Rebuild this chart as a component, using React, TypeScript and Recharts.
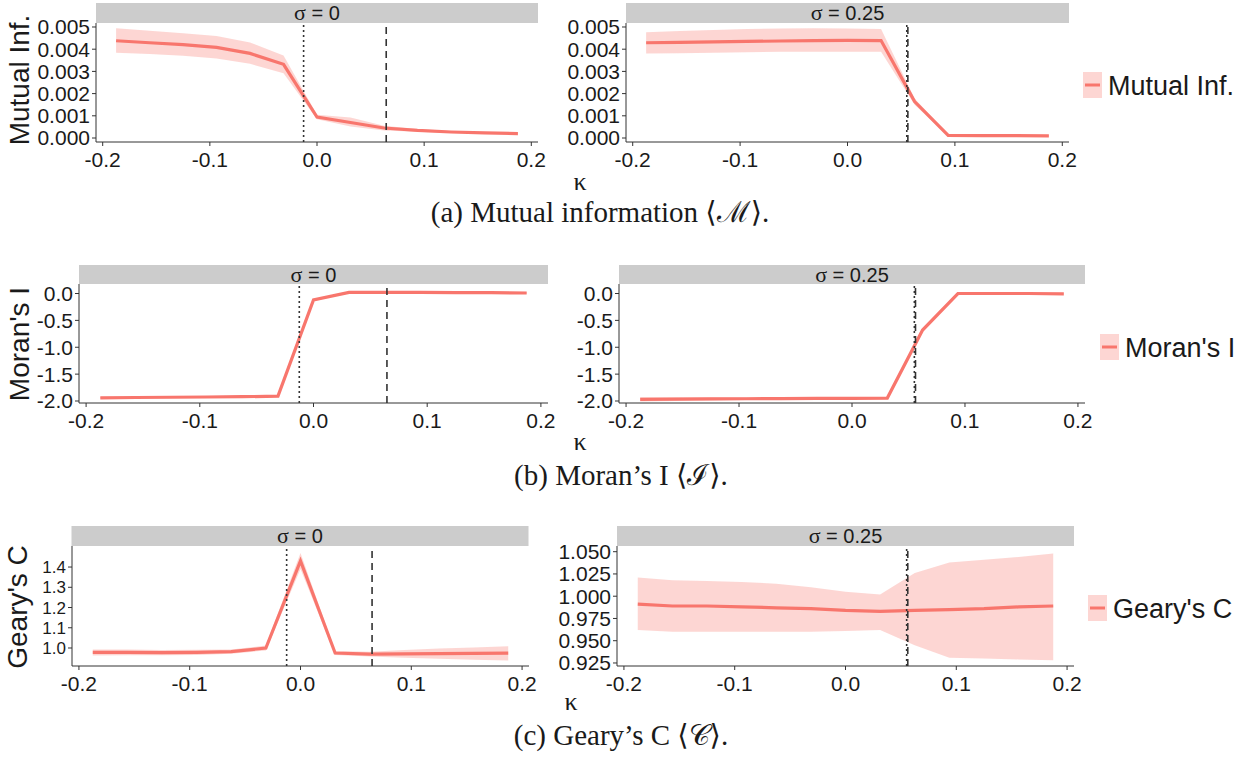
import React from 'react'
import { ComposedChart, Area, Line, XAxis, YAxis, ReferenceLine } from 'recharts'

// kappa grid shared by every panel
const kappa = [-0.1875, -0.15625, -0.125, -0.09375, -0.0625, -0.03125, 0, 0.03125, 0.0625, 0.09375, 0.125, 0.15625, 0.1875]
const xTicks = [-0.2, -0.1, 0, 0.1, 0.2]

// Mutual information, sigma = 0
const miS0 = [0.00438, 0.00429, 0.00421, 0.00408, 0.00381, 0.00332, 0.00094, 0.0007, 0.00045, 0.00034, 0.00027, 0.00023, 0.0002]
const miS0Lo = [0.00384, 0.00378, 0.0037, 0.00358, 0.00334, 0.00292, 0.00084, 0.00052, 0.00034, 0.00028, 0.00022, 0.00019, 0.00016]
const miS0Hi = [0.00494, 0.00483, 0.00472, 0.0046, 0.0043, 0.00372, 0.00105, 0.00092, 0.00055, 0.0004, 0.00032, 0.00027, 0.00024]

// Mutual information, sigma = 0.25
const miS25 = [0.00429, 0.00431, 0.00433, 0.00435, 0.00437, 0.00439, 0.0044, 0.00439, 0.00164, 0.00012, 0.00011, 0.00011, 0.0001]
const miS25Lo = [0.00381, 0.00382, 0.00384, 0.00386, 0.00388, 0.00389, 0.00389, 0.00389, 0.0015, 0.00008, 0.00008, 0.00008, 0.00007]
const miS25Hi = [0.00476, 0.00482, 0.00487, 0.00491, 0.00493, 0.00494, 0.00493, 0.00491, 0.00178, 0.00016, 0.00015, 0.00014, 0.00013]

// Moran's I, sigma = 0
const moranS0 = [-1.94, -1.935, -1.93, -1.925, -1.92, -1.91, -0.12, 0.02, 0.02, 0.02, 0.015, 0.015, 0.01]
const moranS0Lo = [-1.955, -1.95, -1.945, -1.94, -1.935, -1.925, -0.14, 0.01, 0.01, 0.01, 0.005, 0.005, 0.0]
const moranS0Hi = [-1.925, -1.92, -1.915, -1.91, -1.905, -1.895, -0.1, 0.03, 0.03, 0.03, 0.025, 0.025, 0.02]

// Moran's I, sigma = 0.25
const moranS25 = [-1.97, -1.965, -1.96, -1.958, -1.955, -1.952, -1.95, -1.945, -0.68, 0.0, 0.0, 0.0, -0.005]
const moranS25Lo = [-2.01, -2.0, -1.99, -1.98, -1.97, -1.965, -1.96, -1.955, -0.7, -0.01, -0.01, -0.01, -0.015]
const moranS25Hi = [-1.93, -1.93, -1.935, -1.935, -1.94, -1.94, -1.94, -1.935, -0.66, 0.01, 0.01, 0.01, 0.005]

// Geary's C, sigma = 0
const gearyS0 = [0.978, 0.978, 0.977, 0.978, 0.982, 1.0, 1.43, 0.975, 0.97, 0.971, 0.972, 0.973, 0.975]
const gearyS0Lo = [0.963, 0.964, 0.964, 0.965, 0.971, 0.988, 1.39, 0.965, 0.958, 0.952, 0.947, 0.942, 0.938]
const gearyS0Hi = [0.993, 0.992, 0.99, 0.991, 0.993, 1.012, 1.47, 0.985, 0.982, 0.99, 0.997, 1.003, 1.008]

// Geary's C, sigma = 0.25
const gearyS25 = [0.991, 0.989, 0.989, 0.988, 0.987, 0.986, 0.984, 0.983, 0.984, 0.985, 0.986, 0.988, 0.989]
const gearyS25Lo = [0.962, 0.96, 0.96, 0.96, 0.96, 0.96, 0.961, 0.962, 0.945, 0.931, 0.93, 0.929, 0.928]
const gearyS25Hi = [1.021, 1.018, 1.017, 1.016, 1.014, 1.01, 1.005, 1.002, 1.026, 1.038, 1.041, 1.044, 1.048]

const miTicks = [0, 0.001, 0.002, 0.003, 0.004, 0.005]
const moranTicks = [-2, -1.5, -1, -0.5, 0]
const gearyS0Ticks = [1.0, 1.1, 1.2, 1.3, 1.4]
const gearyS25Ticks = [0.925, 0.95, 0.975, 1.0, 1.025, 1.05]

// threshold markers (dotted / dashed vertical lines)
const dottedS0 = -0.0125
const dashedS0 = 0.0646
const dottedS25 = 0.0552
const dashedS25 = 0.0562

const LINE = '#F8766D'
const AXIS = '#333333'
const TEXT = '#1a1a1a'
const STRIP = '#cccccc'
const SANS = '"Liberation Sans", Arial, Helvetica, sans-serif'
const SERIF = '"Liberation Serif", "DejaVu Serif", serif'

const Y_AXIS_W = 70
const X_AXIS_H = 34
const RIGHT_PAD = 24
const TOP_PAD = 14
const X_DOMAIN: [number, number] = [-0.20625, 0.20625]

type Box = { left: number; right: number; top: number; bottom: number }

function toRows(mean: number[], lo: number[], hi: number[]) {
    return kappa.map((k, i) => ({ k, v: mean[i], band: [lo[i], hi[i]] }))
}

interface PanelProps {
    box: Box
    rows: { k: number; v: number; band: number[] }[]
    yDomain: [number, number]
    yTicks: number[]
    digits: number
    dotted: number
    dashed: number
    yFont?: number
}

function Panel({ box, rows, yDomain, yTicks, digits, dotted, dashed, yFont = 21 }: PanelProps) {
    const w = box.right - box.left
    const h = box.bottom - box.top
    const tick = { fill: TEXT, fontSize: 21, fontFamily: SANS }
    return (
        <div style={{ position: 'absolute', left: box.left - Y_AXIS_W, top: box.top - TOP_PAD }}>
            <ComposedChart
                width={Y_AXIS_W + w + RIGHT_PAD}
                height={TOP_PAD + h + X_AXIS_H}
                data={rows}
                margin={{ top: TOP_PAD, right: RIGHT_PAD, bottom: 0, left: 0 }}
            >
                <XAxis
                    dataKey="k"
                    type="number"
                    domain={X_DOMAIN}
                    ticks={xTicks}
                    interval={0}
                    allowDataOverflow
                    tickFormatter={(v: number) => v.toFixed(1)}
                    height={X_AXIS_H}
                    tickSize={4}
                    tickMargin={6}
                    stroke={AXIS}
                    tick={tick}
                />
                <YAxis
                    type="number"
                    domain={yDomain}
                    ticks={yTicks}
                    interval={0}
                    allowDataOverflow
                    width={Y_AXIS_W}
                    tickFormatter={(v: number) => v.toFixed(digits)}
                    tickSize={4}
                    tickMargin={2}
                    stroke={AXIS}
                    tick={{ ...tick, fontSize: yFont }}
                />
                <Area
                    dataKey="band"
                    type="linear"
                    stroke="none"
                    fill={LINE}
                    fillOpacity={0.3}
                    isAnimationActive={false}
                />
                <Line
                    dataKey="v"
                    type="linear"
                    stroke={LINE}
                    strokeWidth={3.2}
                    dot={false}
                    activeDot={false}
                    isAnimationActive={false}
                />
                <ReferenceLine x={dotted} stroke={AXIS} strokeWidth={1.6} strokeDasharray="2 3" />
                <ReferenceLine x={dashed} stroke={AXIS} strokeWidth={1.6} strokeDasharray="7 5" />
            </ComposedChart>
        </div>
    )
}

function Strip({ box, top, label }: { box: Box; top: number; label: string }) {
    const w = box.right - box.left
    const h = box.top - top
    return (
        <g>
            <rect x={box.left} y={top} width={w} height={h} fill={STRIP} />
            <text x={box.left + w / 2} y={top + h / 2 + 7} textAnchor="middle" fontSize={20} fontFamily={SANS} fill={TEXT}>
                <tspan fontFamily={SERIF} fontSize={22}>σ</tspan> = {label}
            </text>
        </g>
    )
}

function LegendKey({ x, y, label }: { x: number; y: number; label: string }) {
    return (
        <g>
            <rect x={x} y={y} width={19} height={26} fill={LINE} fillOpacity={0.3} />
            <line x1={x + 2} x2={x + 17} y1={y + 13} y2={y + 13} stroke={LINE} strokeWidth={3} />
            <text x={x + 25} y={y + 23} fontSize={27} fontFamily={SANS} fill={TEXT}>{label}</text>
        </g>
    )
}

function YTitle({ y, label, base = 29 }: { y: number; label: string; base?: number }) {
    return (
        <text transform={`translate(${base}, ${y}) rotate(-90)`} textAnchor="middle" fontSize={28} fontFamily={SANS} fill={TEXT}>
            {label}
        </text>
    )
}

const boxes = {
    mi0: { left: 96, right: 538, top: 23, bottom: 142 },
    mi25: { left: 626, right: 1069, top: 23, bottom: 142 },
    mo0: { left: 79, right: 548, top: 284, bottom: 403 },
    mo25: { left: 619, right: 1085, top: 284, bottom: 403 },
    ge0: { left: 71.5, right: 528.5, top: 546, bottom: 666 },
    ge25: { left: 617, right: 1074, top: 546, bottom: 666 },
}

export default function App() {
    return (
        <div style={{ position: 'absolute', left: 0, top: 0, width: 1249, height: 762, background: '#fff', overflow: 'hidden' }}>
            <svg width={1249} height={762} style={{ position: 'absolute', left: 0, top: 0 }}>
                <Strip box={boxes.mi0} top={3} label="0" />
                <Strip box={boxes.mi25} top={3} label="0.25" />
                <Strip box={boxes.mo0} top={265} label="0" />
                <Strip box={boxes.mo25} top={265} label="0.25" />
                <Strip box={boxes.ge0} top={526} label="0" />
                <Strip box={boxes.ge25} top={526} label="0.25" />

                <YTitle y={80} label="Mutual Inf." />
                <YTitle y={344} label="Moran's I" />
                <YTitle y={607} label="Geary's C" base={27} />

                <LegendKey x={1083} y={72} label="Mutual Inf." />
                <LegendKey x={1100} y={334} label="Moran's I" />
                <LegendKey x={1088} y={595} label="Geary's C" />

                <text x={580} y={190} fontSize={26} fontFamily={SERIF} fill={TEXT} textAnchor="middle">κ</text>
                <text x={580} y={450} fontSize={26} fontFamily={SERIF} fill={TEXT} textAnchor="middle">κ</text>
                <text x={571} y={710} fontSize={26} fontFamily={SERIF} fill={TEXT} textAnchor="middle">κ</text>

                <text x={600} y={222} fontSize={29} fontFamily={SERIF} fill={TEXT} textAnchor="middle">(a) Mutual information ⟨ℳ⟩.</text>
                <text x={621} y={485} fontSize={29} fontFamily={SERIF} fill={TEXT} textAnchor="middle">(b) Moran’s I ⟨ℐ⟩.</text>
                <text x={621} y={745} fontSize={29} fontFamily={SERIF} fill={TEXT} textAnchor="middle">(c) Geary’s C ⟨𝒞⟩.</text>
            </svg>

            <Panel box={boxes.mi0} rows={toRows(miS0, miS0Lo, miS0Hi)} yDomain={[-0.00018, 0.00518]} yTicks={miTicks} digits={3} dotted={dottedS0} dashed={dashedS0} />
            <Panel box={boxes.mi25} rows={toRows(miS25, miS25Lo, miS25Hi)} yDomain={[-0.00018, 0.00518]} yTicks={miTicks} digits={3} dotted={dottedS25} dashed={dashedS25} />
            <Panel box={boxes.mo0} rows={toRows(moranS0, moranS0Lo, moranS0Hi)} yDomain={[-2.037, 0.177]} yTicks={moranTicks} digits={1} dotted={dottedS0} dashed={dashedS0} />
            <Panel box={boxes.mo25} rows={toRows(moranS25, moranS25Lo, moranS25Hi)} yDomain={[-2.037, 0.177]} yTicks={moranTicks} digits={1} dotted={dottedS25} dashed={dashedS25} />
            <Panel box={boxes.ge0} rows={toRows(gearyS0, gearyS0Lo, gearyS0Hi)} yDomain={[0.911, 1.504]} yTicks={gearyS0Ticks} digits={1} dotted={dottedS0} dashed={dashedS0} yFont={17} />
            <Panel box={boxes.ge25} rows={toRows(gearyS25, gearyS25Lo, gearyS25Hi)} yDomain={[0.9216, 1.0564]} yTicks={gearyS25Ticks} digits={3} dotted={dottedS25} dashed={dashedS25} />
        </div>
    )
}
